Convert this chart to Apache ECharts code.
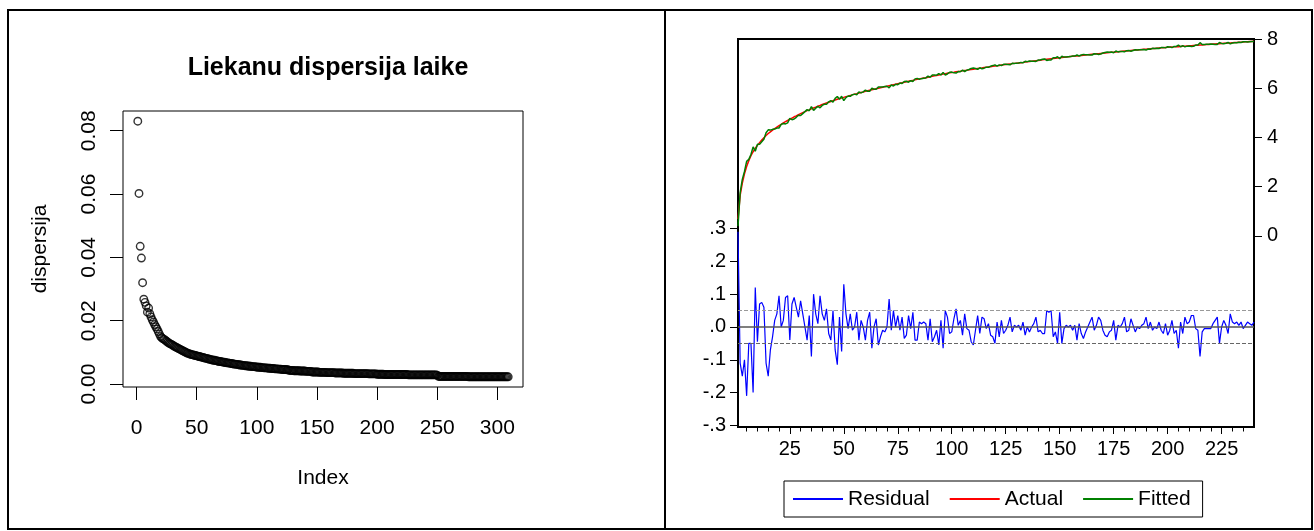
<!DOCTYPE html>
<html>
<head>
<meta charset="utf-8">
<title>Liekanu dispersija laike</title>
<script src="https://cdn.jsdelivr.net/npm/echarts@6.0.0/dist/echarts.min.js"></script>
<style>
  body { margin: 0; background: #fff; }
  #chart { width: 1314px; height: 531px; }
</style>
</head>
<body>
<div id="chart"></div>
<script>
// left panel: dispersija by index (1..309)
const dispersija = [
  0.0830, 0.0602, 0.0435, 0.0398, 0.0320, 0.0268, 0.0258, 0.0247, 0.0227, 0.0240,
  0.0222, 0.0212, 0.0203, 0.0196, 0.0188, 0.0181, 0.0174, 0.0166, 0.0158, 0.0150,
  0.0146, 0.0143, 0.0141, 0.0138, 0.0135, 0.0132, 0.0129, 0.0127, 0.0125, 0.0123,
  0.0120, 0.0118, 0.0116, 0.0114, 0.0112, 0.0110, 0.0108, 0.0106, 0.0104, 0.0102,
  0.0100, 0.0098, 0.0097, 0.0095, 0.0094, 0.0093, 0.0092, 0.0091, 0.0090, 0.0089,
  0.0088, 0.0087, 0.0086, 0.0085, 0.0084, 0.0083, 0.0082, 0.0081, 0.0080, 0.0079,
  0.0078, 0.0077, 0.0076, 0.0075, 0.0075, 0.0074, 0.0073, 0.0072, 0.0071, 0.0071,
  0.0070, 0.0069, 0.0069, 0.0068, 0.0067, 0.0067, 0.0066, 0.0065, 0.0065, 0.0064,
  0.0063, 0.0063, 0.0062, 0.0062, 0.0061, 0.0060, 0.0060, 0.0059, 0.0059, 0.0058,
  0.0058, 0.0057, 0.0057, 0.0056, 0.0056, 0.0055, 0.0055, 0.0055, 0.0054, 0.0054,
  0.0053, 0.0053, 0.0053, 0.0052, 0.0052, 0.0051, 0.0051, 0.0051, 0.0050, 0.0050,
  0.0050, 0.0049, 0.0049, 0.0049, 0.0048, 0.0048, 0.0048, 0.0047, 0.0047, 0.0047,
  0.0046, 0.0046, 0.0046, 0.0046, 0.0045, 0.0045, 0.0043, 0.0043, 0.0043, 0.0043,
  0.0042, 0.0042, 0.0042, 0.0042, 0.0042, 0.0041, 0.0041, 0.0041, 0.0041, 0.0041,
  0.0040, 0.0040, 0.0040, 0.0040, 0.0040, 0.0038, 0.0038, 0.0038, 0.0038, 0.0038,
  0.0038, 0.0037, 0.0037, 0.0037, 0.0037, 0.0037, 0.0037, 0.0036, 0.0036, 0.0036,
  0.0036, 0.0036, 0.0036, 0.0036, 0.0035, 0.0035, 0.0035, 0.0035, 0.0035, 0.0035,
  0.0035, 0.0034, 0.0034, 0.0034, 0.0034, 0.0034, 0.0034, 0.0034, 0.0034, 0.0034,
  0.0033, 0.0033, 0.0033, 0.0033, 0.0033, 0.0033, 0.0033, 0.0033, 0.0033, 0.0033,
  0.0033, 0.0033, 0.0032, 0.0032, 0.0032, 0.0032, 0.0032, 0.0032, 0.0032, 0.0031,
  0.0031, 0.0031, 0.0031, 0.0031, 0.0031, 0.0030, 0.0030, 0.0030, 0.0030, 0.0030,
  0.0030, 0.0030, 0.0030, 0.0030, 0.0030, 0.0030, 0.0030, 0.0030, 0.0030, 0.0030,
  0.0030, 0.0030, 0.0030, 0.0030, 0.0030, 0.0029, 0.0029, 0.0029, 0.0029, 0.0029,
  0.0029, 0.0029, 0.0029, 0.0029, 0.0029, 0.0029, 0.0029, 0.0029, 0.0029, 0.0029,
  0.0029, 0.0029, 0.0029, 0.0029, 0.0029, 0.0029, 0.0029, 0.0029, 0.0029, 0.0028,
  0.0024, 0.0024, 0.0024, 0.0024, 0.0024, 0.0024, 0.0024, 0.0024, 0.0024, 0.0024,
  0.0024, 0.0024, 0.0024, 0.0024, 0.0024, 0.0024, 0.0024, 0.0024, 0.0024, 0.0024,
  0.0024, 0.0024, 0.0024, 0.0024, 0.0024, 0.0023, 0.0023, 0.0023, 0.0023, 0.0023,
  0.0023, 0.0023, 0.0023, 0.0023, 0.0023, 0.0023, 0.0023, 0.0023, 0.0023, 0.0023,
  0.0023, 0.0023, 0.0023, 0.0023, 0.0023, 0.0023, 0.0023, 0.0023, 0.0023, 0.0023,
  0.0023, 0.0023, 0.0023, 0.0023, 0.0023, 0.0023, 0.0023, 0.0023, 0.0023
];
const dispXTicks = [0, 50, 100, 150, 200, 250, 300];
const dispYTicks = [0, 0.02, 0.04, 0.06, 0.08];

// right panel: residual / actual by observation (1..240)
const residual = [
  0.29, -0.11, -0.15, -0.10, -0.21, -0.05, -0.05, -0.20, 0.12, -0.045,
  0.07, 0.075, 0.06, -0.11, -0.15, -0.07, -0.03, 0.02, 0.04, 0.095,
  0.0, 0.02, 0.09, 0.095, -0.04, 0.07, 0.09, 0.06, 0.03, 0.08,
  0.04, 0.0, -0.04, 0.035, -0.09, 0.10, 0.04, 0.01, 0.095, 0.04,
  0.02, 0.055, -0.02, -0.04, 0.05, -0.07, -0.115, 0.03, -0.075, 0.13,
  0.04, -0.005, 0.04, -0.01, 0.0, 0.045, -0.04, 0.02, 0.0, -0.04,
  0.02, 0.045, -0.065, 0.0, 0.025, -0.055, -0.03, -0.01, -0.015, 0.0,
  0.085, -0.01, 0.05, 0.0, 0.035, -0.01, 0.03, -0.035, -0.025, 0.035,
  -0.005, 0.045, -0.04, -0.04, 0.015, 0.01, 0.015, 0.01, -0.04, 0.025,
  -0.045, -0.03, -0.01, -0.055, 0.02, -0.065, 0.05, 0.03, -0.02, -0.015,
  0.025, 0.055, 0.005, 0.02, -0.025, 0.04, -0.005, -0.01, -0.045, -0.055,
  -0.01, 0.035, -0.02, 0.03, 0.025, -0.005, 0.01, -0.025, -0.03, -0.05,
  0.015, -0.03, 0.02, -0.02, -0.01, 0.005, 0.03, -0.015, 0.005, 0.0,
  0.005, -0.01, 0.015, -0.025, 0.0, -0.015, 0.0, 0.01, 0.03, -0.015,
  -0.01, -0.02, -0.02, 0.05, 0.045, 0.05, -0.03, -0.015, -0.05, 0.045,
  -0.05, -0.005, 0.005, 0.0, 0.005, -0.01, 0.005, -0.04, 0.01, -0.02,
  -0.035, -0.015, 0.0, 0.015, 0.03, -0.01, 0.005, 0.03, 0.02, -0.01,
  -0.025, -0.03, -0.015, -0.01, 0.02, -0.04, 0.005, 0.0, 0.01, 0.03,
  -0.015, -0.01, 0.025, 0.005, -0.015, 0.0, -0.005, 0.005, 0.01, 0.03,
  -0.005, 0.015, -0.01, 0.0, -0.005, 0.015, -0.01, -0.02, 0.01, -0.025,
  -0.01, 0.02, -0.02, -0.01, -0.065, 0.015, -0.02, 0.03, 0.01, 0.015,
  0.035, 0.035, -0.005, -0.01, -0.09, -0.015, -0.005, -0.005, -0.005, -0.005,
  0.01, 0.02, 0.03, -0.05, 0.0, 0.02, 0.005, -0.02, 0.04, 0.015,
  0.01, 0.015, 0.005, 0.015, -0.005, 0.005, 0.015, 0.01, 0.005, 0.015
];
const actual = [
  0.69, 1.65, 2.15, 2.52, 2.82, 3.06, 3.26, 3.42, 3.56, 3.68,
  3.79, 3.90, 3.99, 4.08, 4.16, 4.23, 4.30, 4.36, 4.42, 4.48,
  4.53, 4.59, 4.64, 4.69, 4.74, 4.79, 4.84, 4.88, 4.93, 4.97,
  5.01, 5.05, 5.09, 5.12, 5.16, 5.20, 5.23, 5.27, 5.30, 5.34,
  5.37, 5.40, 5.43, 5.46, 5.49, 5.52, 5.55, 5.58, 5.60, 5.63,
  5.66, 5.68, 5.71, 5.73, 5.76, 5.78, 5.81, 5.83, 5.85, 5.88,
  5.90, 5.92, 5.94, 5.96, 5.98, 6.00, 6.02, 6.04, 6.06, 6.08,
  6.10, 6.12, 6.14, 6.16, 6.18, 6.20, 6.22, 6.24, 6.26, 6.28,
  6.30, 6.32, 6.34, 6.36, 6.38, 6.40, 6.42, 6.43, 6.45, 6.47,
  6.49, 6.51, 6.52, 6.54, 6.56, 6.58, 6.59, 6.61, 6.63, 6.64,
  6.65, 6.67, 6.68, 6.69, 6.71, 6.72, 6.73, 6.75, 6.76, 6.77,
  6.79, 6.80, 6.81, 6.82, 6.84, 6.85, 6.86, 6.87, 6.89, 6.90,
  6.91, 6.92, 6.94, 6.95, 6.96, 6.97, 6.98, 7.00, 7.01, 7.02,
  7.03, 7.04, 7.05, 7.07, 7.08, 7.09, 7.10, 7.11, 7.12, 7.13,
  7.14, 7.16, 7.17, 7.18, 7.19, 7.20, 7.21, 7.22, 7.23, 7.24,
  7.25, 7.26, 7.27, 7.28, 7.29, 7.30, 7.31, 7.31, 7.32, 7.33,
  7.34, 7.35, 7.36, 7.37, 7.38, 7.39, 7.40, 7.40, 7.41, 7.42,
  7.43, 7.44, 7.45, 7.46, 7.46, 7.47, 7.48, 7.49, 7.50, 7.51,
  7.51, 7.52, 7.53, 7.54, 7.55, 7.55, 7.56, 7.57, 7.58, 7.58,
  7.59, 7.60, 7.61, 7.61, 7.62, 7.63, 7.64, 7.64, 7.65, 7.66,
  7.67, 7.67, 7.68, 7.69, 7.69, 7.70, 7.71, 7.71, 7.72, 7.73,
  7.73, 7.74, 7.75, 7.75, 7.76, 7.76, 7.77, 7.78, 7.78, 7.79,
  7.80, 7.80, 7.81, 7.81, 7.82, 7.83, 7.83, 7.84, 7.84, 7.85,
  7.86, 7.86, 7.87, 7.87, 7.88, 7.89, 7.89, 7.90, 7.90, 7.91
];
const obsTicks = [25, 50, 75, 100, 125, 150, 175, 200, 225];
const obsMinorTicks = [5, 10, 15, 20, 30, 35, 40, 45, 55, 60, 65, 70, 80, 85, 90, 95,
  105, 110, 115, 120, 130, 135, 140, 145, 155, 160, 165, 170, 180, 185, 190, 195,
  205, 210, 215, 220, 230, 235];
const residTicks = [-0.3, -0.2, -0.1, 0, 0.1, 0.2, 0.3];
const levelTicks = [0, 2, 4, 6, 8];
const seBand = 0.05;

const FONT = 'Liberation Sans, Arial, sans-serif';

const chartDom = document.getElementById('chart');
const myChart = echarts.init(chartDom);

const dispData = dispersija.map((v, i) => [i + 1, v]);
const residData = residual.map((v, i) => [i + 1, v]);
const actualData = actual.map((v, i) => [i + 1, v]);
// fitted = actual - residual
const fittedData = actual.map((v, i) => [i + 1, Math.round((v - residual[i]) * 1000) / 1000]);

const tickStyle = { color: '#000', width: 1 };
const labelStyle = { color: '#000', fontFamily: FONT };
const noLine = { show: false, onZero: false };

myChart.setOption({
  animation: false,
  backgroundColor: '#fff',
  title: {
    text: 'Liekanu dispersija laike',
    left: 323,
    top: 51,
    textAlign: 'center',
    textStyle: { fontFamily: FONT, fontSize: 25, fontWeight: 'bold', color: '#000' }
  },
  grid: [
    { left: 123, top: 111, width: 400, height: 276, show: true, borderColor: '#000', borderWidth: 1, backgroundColor: 'transparent' },
    { left: 738, top: 39, width: 516, height: 388, show: true, borderColor: '#000', borderWidth: 2, backgroundColor: 'transparent' }
  ],
  xAxis: [
    {
      gridIndex: 0, type: 'value', min: -11.3, max: 321.3,
      name: 'Index', nameLocation: 'middle', nameGap: 81,
      nameTextStyle: { fontFamily: FONT, fontSize: 21, color: '#000' },
      axisLine: noLine,
      axisTick: { customValues: dispXTicks, length: 13, lineStyle: tickStyle },
      axisLabel: Object.assign({ customValues: dispXTicks, fontSize: 21, margin: 31 }, labelStyle),
      splitLine: { show: false }
    },
    {
      gridIndex: 1, type: 'value', min: 1, max: 240, position: 'bottom',
      axisLine: noLine,
      axisTick: { customValues: obsTicks, length: 7, lineStyle: tickStyle },
      axisLabel: Object.assign({ customValues: obsTicks, fontSize: 20, margin: 12 }, labelStyle),
      splitLine: { show: false }
    },
    {
      gridIndex: 1, type: 'value', min: 1, max: 240, position: 'bottom', offset: 0,
      axisLine: noLine,
      axisTick: { customValues: obsMinorTicks, length: 4.5, lineStyle: tickStyle },
      axisLabel: { show: false },
      splitLine: { show: false }
    }
  ],
  yAxis: [
    {
      gridIndex: 0, type: 'value', min: -0.00093, max: 0.08623,
      name: 'dispersija', nameLocation: 'middle', nameGap: 72, nameRotate: 90,
      nameTextStyle: { fontFamily: FONT, fontSize: 21, color: '#000' },
      axisLine: noLine,
      axisTick: { customValues: dispYTicks, length: 13, lineStyle: tickStyle },
      axisLabel: Object.assign({
        customValues: dispYTicks, fontSize: 21, rotate: 90, margin: 23,
        formatter: (v) => v.toFixed(2)
      }, labelStyle),
      splitLine: { show: false }
    },
    {
      gridIndex: 1, type: 'value', position: 'left', min: -0.305, max: 0.878,
      axisLine: noLine,
      axisTick: { customValues: residTicks, length: 8, lineStyle: tickStyle },
      axisLabel: Object.assign({
        customValues: residTicks, fontSize: 20, margin: 12,
        formatter: (v) => (v < 0 ? '-' : '') + '.' + Math.round(Math.abs(v) * 10)
      }, labelStyle),
      splitLine: { show: false }
    },
    {
      gridIndex: 1, type: 'value', position: 'right', min: -7.76, max: 8,
      axisLine: noLine,
      axisTick: { customValues: levelTicks, length: 8, lineStyle: tickStyle },
      axisLabel: Object.assign({ customValues: levelTicks, fontSize: 20, margin: 13 }, labelStyle),
      splitLine: { show: false }
    }
  ],
  legend: {
    data: ['Residual', 'Actual', 'Fitted'],
    left: 784,
    top: 481,
    orient: 'horizontal',
    icon: 'rect',
    itemWidth: 50,
    itemHeight: 2,
    itemGap: 20,
    padding: [7, 12, 7, 9],
    borderColor: '#000',
    borderWidth: 1,
    textStyle: { fontFamily: FONT, fontSize: 21, color: '#000', lineHeight: 22 }
  },
  series: [
    {
      name: 'dispersija',
      type: 'scatter',
      xAxisIndex: 0,
      yAxisIndex: 0,
      symbol: 'circle',
      symbolSize: 7.5,
      itemStyle: { color: 'rgba(0,0,0,0)', borderColor: '#000', borderWidth: 1.4 },
      data: dispData
    },
    {
      name: 'Residual',
      type: 'line',
      xAxisIndex: 1,
      yAxisIndex: 1,
      symbol: 'none',
      color: '#0000ff',
      lineStyle: { color: '#0000ff', width: 1.2 },
      data: residData,
      markLine: {
        silent: true,
        symbol: 'none',
        label: { show: false },
        data: [
          { yAxis: 0, lineStyle: { color: '#555', width: 1.5, type: 'solid' } },
          { yAxis: seBand, lineStyle: { color: '#999', width: 1, type: [4, 2] } },
          { yAxis: -seBand, lineStyle: { color: '#666', width: 1, type: [4, 2] } }
        ]
      }
    },
    {
      name: 'Actual',
      type: 'line',
      xAxisIndex: 1,
      yAxisIndex: 2,
      symbol: 'none',
      color: '#ff0000',
      lineStyle: { color: '#ff0000', width: 1.5 },
      data: actualData
    },
    {
      name: 'Fitted',
      type: 'line',
      xAxisIndex: 1,
      yAxisIndex: 2,
      symbol: 'none',
      color: '#008000',
      lineStyle: { color: '#008000', width: 1.5 },
      data: fittedData
    }
  ],
  graphic: [
    { type: 'rect', shape: { x: 8, y: 10, width: 1304, height: 519 }, style: { fill: 'none', stroke: '#000', lineWidth: 2 } },
    { type: 'line', shape: { x1: 665, y1: 10, x2: 665, y2: 529 }, style: { stroke: '#000', lineWidth: 2 } }
  ]
});
</script>
</body>
</html>
